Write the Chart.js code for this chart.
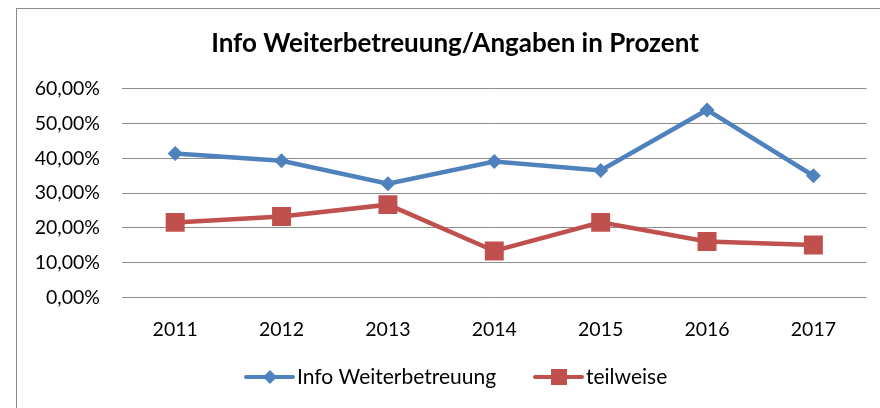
<!DOCTYPE html>
<html>
<head>
<meta charset="utf-8">
<script src="https://cdn.jsdelivr.net/npm/chart.js@4"></script>
<style>
  body { margin: 0; background: #fff; }
  #frame { position: absolute; left: 16px; top: 8px; width: 900px; height: 430px;
           border-left: 1px solid #8c8c8c; border-top: 1px solid #8c8c8c; }
  #wrap { position: absolute; left: 0; top: 0; width: 880px; height: 408px; }
</style>
</head>
<body>
<div id="frame"></div>
<div id="wrap"><canvas id="myChart" width="880" height="408"></canvas></div>
<script>
const years = ["2011", "2012", "2013", "2014", "2015", "2016", "2017"];
const infoValues = [41.4, 39.3, 32.7, 39.1, 36.5, 53.9, 35.0];
const teilweiseValues = [21.6, 23.3, 26.7, 13.4, 21.6, 16.1, 15.1];
const yTicks = [0, 10, 20, 30, 40, 50, 60];

const FONT = "Lato, 'Open Sans', sans-serif";
const blue = "#4f81bd";
const red = "#c0504d";

// the office chart centres its title a bit right of the canvas middle
const titleShift = {
    id: "titleShift",
    afterLayout(chart) {
        const t = chart.titleBlock;
        if (t) { t.left += 21; t.right += 21; }
    }
};

// legend drawn by hand: line with marker in the middle, like the office chart
const lineLegend = {
    id: "lineLegend",
    afterDraw(chart) {
        const ctx = chart.ctx;
        const y = 377;
        const items = [
            { x: 246, ds: chart.data.datasets[0], r: 7 },
            { x: 535, ds: chart.data.datasets[1], r: 11.3 }
        ];
        ctx.save();
        ctx.font = "21px " + FONT;
        ctx.textBaseline = "middle";
        for (const it of items) {
            ctx.strokeStyle = it.ds.borderColor;
            ctx.lineWidth = 4;
            ctx.lineCap = "round";
            ctx.beginPath();
            ctx.moveTo(it.x, y);
            ctx.lineTo(it.x + 47, y);
            ctx.stroke();
            ctx.fillStyle = it.ds.borderColor;
            Chart.helpers.drawPoint(ctx, {
                pointStyle: it.ds.pointStyle,
                radius: it.r,
                rotation: 0,
                borderWidth: 0
            }, it.x + 24, y);
            ctx.fillStyle = "#000";
            ctx.fillText(it.ds.label, it.x + 51, y);
        }
        ctx.restore();
    }
};

const ctx = document.getElementById("myChart").getContext("2d");
new Chart(ctx, {
    type: "line",
    data: {
        labels: years,
        datasets: [{
            label: "Info Weiterbetreuung",
            data: infoValues,
            borderColor: blue,
            backgroundColor: blue,
            borderWidth: 4.5,
            pointStyle: "rectRot",
            pointRadius: 7.5,
            pointBorderWidth: 0,
            tension: 0
        }, {
            label: "teilweise",
            data: teilweiseValues,
            borderColor: red,
            backgroundColor: red,
            borderWidth: 4.5,
            pointStyle: "rect",
            pointRadius: 13.4,
            pointBorderWidth: 0,
            tension: 0
        }]
    },
    options: {
        responsive: false,
        animation: false,
        devicePixelRatio: 1,
        layout: { padding: { left: 0, right: 12, top: 0, bottom: 47 } },
        plugins: {
            legend: { display: false },
            tooltip: { enabled: false },
            title: {
                display: true,
                text: "Info Weiterbetreuung/Angaben in Prozent",
                color: "#000",
                font: { family: FONT, size: 26, weight: "bold" },
                padding: { top: 28, bottom: 29.5 }
            }
        },
        scales: {
            x: {
                offset: true,
                grid: { display: false, drawTicks: false },
                border: { display: false },
                ticks: { color: "#000", font: { family: FONT, size: 19.5 }, padding: 20 }
            },
            y: {
                min: 0,
                max: 60,
                afterFit(scale) { scale.width = 122; },
                afterBuildTicks(scale) { scale.ticks = yTicks.map(v => ({ value: v })); },
                grid: { color: "#8c8c8c", lineWidth: 1, drawTicks: false },
                border: { display: false },
                ticks: {
                    color: "#000",
                    font: { family: FONT, size: 19.5 },
                    padding: 22,
                    callback: v => v.toFixed(2).replace(".", ",") + "%"
                }
            }
        }
    },
    plugins: [titleShift, lineLegend]
});
</script>
</body>
</html>
